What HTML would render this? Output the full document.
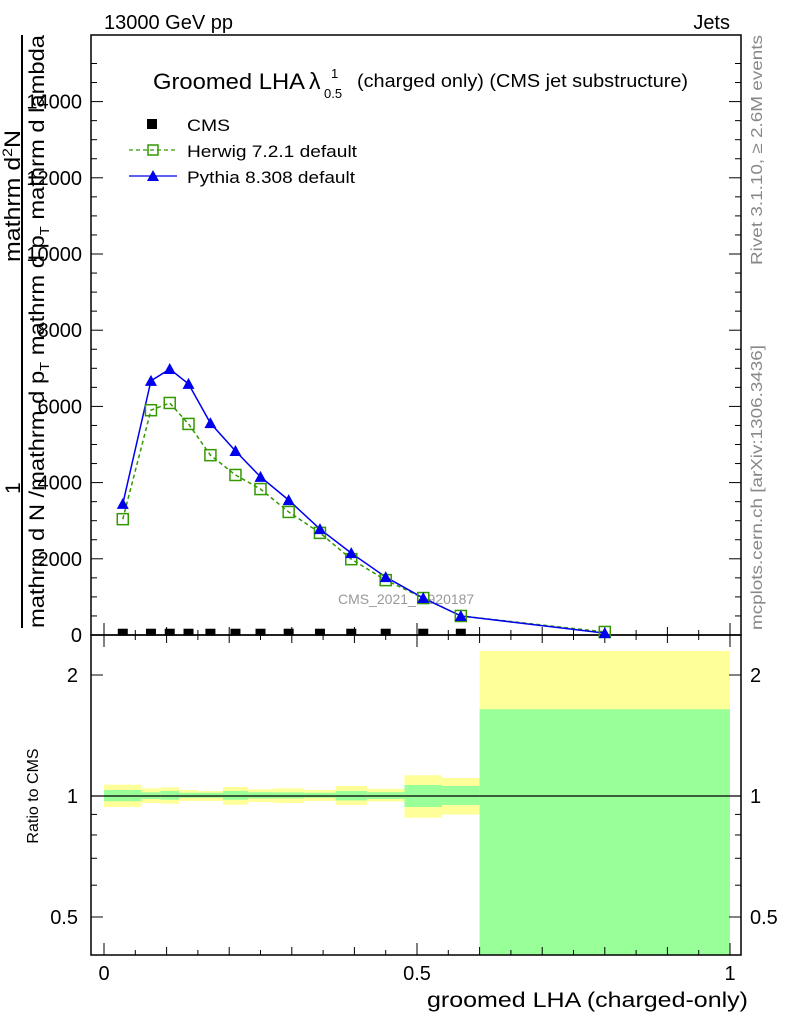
<!DOCTYPE html>
<html><head><meta charset="utf-8"><style>
body{margin:0;background:#fff;}
svg{display:block;font-family:"Liberation Sans",sans-serif;}
</style></head><body>
<svg id="c" width="786" height="1024" viewBox="0 0 786 1024" xmlns="http://www.w3.org/2000/svg">
<text x="104" y="29" font-size="20">13000 GeV pp</text>
<text x="730" y="29" font-size="20" text-anchor="end">Jets</text>
<g>
<text x="153" y="89" font-size="22" textLength="152" lengthAdjust="spacingAndGlyphs">Groomed LHA</text>
<text x="309" y="89" font-size="23">λ</text>
<text x="331" y="78" font-size="13">1</text>
<text x="324" y="98" font-size="13">0.5</text>
</g>
<text x="357" y="87" font-size="18" textLength="331" lengthAdjust="spacingAndGlyphs">(charged only) (CMS jet substructure)</text>
<g>
<rect x="147" y="119" width="10" height="10" fill="#000"/>
<text x="187" y="131" font-size="17" textLength="43" lengthAdjust="spacingAndGlyphs">CMS</text>
<line x1="129" y1="150" x2="177" y2="150" stroke="#339900" stroke-dasharray="4,3" stroke-width="1.3"/>
<rect x="148" y="145" width="10" height="10" fill="none" stroke="#339900" stroke-width="1.5"/>
<text x="187" y="157" font-size="17" textLength="170" lengthAdjust="spacingAndGlyphs">Herwig 7.2.1 default</text>
<line x1="129" y1="176" x2="177" y2="176" stroke="#0000ee" stroke-width="1.3"/>
<polygon points="153,170 159,181 147,181" fill="#0000ee"/>
<text x="187" y="183" font-size="17" textLength="168" lengthAdjust="spacingAndGlyphs">Pythia 8.308 default</text>
</g>
<text x="338" y="604" font-size="14" fill="#999">CMS_2021_I1920187</text>
<text transform="translate(762,265) rotate(-90)" font-size="16" fill="#888" textLength="230" lengthAdjust="spacingAndGlyphs">Rivet 3.1.10, ≥ 2.6M events</text>
<text transform="translate(762,630) rotate(-90)" font-size="16" fill="#888" textLength="285" lengthAdjust="spacingAndGlyphs">mcplots.cern.ch [arXiv:1306.3436]</text>
<g>
<text transform="translate(20,262) rotate(-90)" font-size="22" textLength="132" lengthAdjust="spacingAndGlyphs">mathrm d<tspan font-size="14" dy="-8">2</tspan><tspan dy="8">N</tspan></text>
<line x1="22" y1="35" x2="22" y2="628" stroke="#000" stroke-width="2"/>
<text transform="translate(20,494) rotate(-90)" font-size="21">1</text>
<text transform="translate(44,628) rotate(-90)" font-size="21" textLength="593" lengthAdjust="spacingAndGlyphs">mathrm d N /mathrm d p<tspan font-size="13" dy="5">T</tspan><tspan dy="-5"> mathrm d p</tspan><tspan font-size="13" dy="5">T</tspan><tspan dy="-5"> mathrm d lambda</tspan></text>
</g>
<text transform="translate(38,796) rotate(-90)" font-size="16" text-anchor="middle">Ratio to CMS</text>
<text x="427" y="1007" font-size="21" textLength="321" lengthAdjust="spacingAndGlyphs">groomed LHA (charged-only)</text>
<g id="g"></g>
</svg>
<script>
const binEdges=[0,0.06,0.09,0.12,0.15,0.19,0.23,0.27,0.32,0.37,0.42,0.48,0.54,0.6,1.0];
const cmsValues=[60,60,60,60,60,60,60,60,60,60,60,60,60,20];
const herwigValues=[3040,5900,6090,5540,4720,4200,3830,3230,2680,1990,1440,970,500,80];
const pythiaValues=[3440,6670,6980,6590,5560,4830,4150,3540,2780,2150,1520,970,500,50];
const bandYellowHi=[1.067,1.045,1.051,1.035,1.029,1.053,1.039,1.045,1.035,1.059,1.042,1.126,1.109,2.295];
const bandYellowLo=[0.939,0.961,0.957,0.972,0.972,0.951,0.966,0.961,0.972,0.95,0.969,0.883,0.899,0.3];
const bandGreenHi=[1.035,1.021,1.029,1.019,1.019,1.029,1.022,1.021,1.019,1.029,1.022,1.065,1.059,1.644];
const bandGreenLo=[0.971,0.983,0.979,0.99,0.99,0.979,0.986,0.986,0.99,0.975,0.983,0.939,0.95,0.3];
const yTicks=[0,2000,4000,6000,8000,10000,12000,14000];
const xTickLabels=["0","0.5","1"];
const xTickVals=[0,0.5,1];
const ratioTicks=[0.5,1,2];

const NS="http://www.w3.org/2000/svg";
const g=document.getElementById('g');
const L=91,R=741,T=35,M=635,B=955;
const sx=v=>104+v*626;
const sy=v=>635-v*0.0381;
const ry=v=>{let y=796-402*Math.log10(v);return Math.max(M,Math.min(B,y));};
function mk(t,a,p){const e=document.createElementNS(NS,t);for(const k in a)e.setAttribute(k,a[k]);(p||g).appendChild(e);return e;}

binEdges.slice(0,-1).forEach((e,i)=>{
  const x1=sx(e),x2=sx(binEdges[i+1]);
  const y=mk('rect',{x:x1,y:ry(bandYellowHi[i]),width:x2-x1,height:ry(bandYellowLo[i])-ry(bandYellowHi[i]),fill:'#ffff99'});
  
  
  const gr=mk('rect',{x:x1,y:ry(bandGreenHi[i]),width:x2-x1,height:ry(bandGreenLo[i])-ry(bandGreenHi[i]),fill:'#99ff99'});
  
  
});
mk('line',{x1:L,y1:ry(1),x2:R,y2:ry(1),stroke:'#000','stroke-width':1.2});

mk('rect',{x:L,y:T,width:R-L,height:M-T,fill:'none',stroke:'#000','stroke-width':1.5});
mk('rect',{x:L,y:M,width:R-L,height:B-M,fill:'none',stroke:'#000','stroke-width':1.5});

for(let v=0;v<=15000;v+=500){const y=sy(v);if(y<T)break;const len=v%2000===0?12:6;
  mk('line',{x1:L,y1:y,x2:L+len,y2:y,stroke:'#000'});mk('line',{x1:R,y1:y,x2:R-len,y2:y,stroke:'#000'});}
yTicks.forEach(v=>{const t=mk('text',{x:82,y:sy(v)+7,'font-size':20,'text-anchor':'end'});t.textContent=v;
  
  });

for(let i=0;i<=20;i++){const v=i*0.05,x=sx(v);const len=i%10===0?12:(i%2===0?8:5);
  mk('line',{x1:x,y1:M,x2:x,y2:M-len,stroke:'#000'});
  mk('line',{x1:x,y1:B,x2:x,y2:B-len,stroke:'#000'});
  mk('line',{x1:x,y1:M,x2:x,y2:M+len,stroke:'#000'});}
xTickVals.forEach((v,i)=>{const t=mk('text',{x:sx(v),y:980,'font-size':20,'text-anchor':'middle'});t.textContent=xTickLabels[i];
  
  });

[0.5,0.6,0.7,0.8,0.9,1,2].forEach(v=>{const y=ry(v);const len=ratioTicks.includes(v)?12:6;
  mk('line',{x1:L,y1:y,x2:L+len,y2:y,stroke:'#000'});mk('line',{x1:R,y1:y,x2:R-len,y2:y,stroke:'#000'});});
ratioTicks.forEach(v=>{
  const t=mk('text',{x:78,y:ry(v)+7,'font-size':20,'text-anchor':'end'});t.textContent=v;
  
  
  const t2=mk('text',{x:750,y:ry(v)+7,'font-size':20});t2.textContent=v;
  
  });

const mids=binEdges.slice(0,-1).map((e,i)=>(e+binEdges[i+1])/2);
mk('polyline',{points:mids.map((m,i)=>sx(m)+','+sy(herwigValues[i])).join(' '),fill:'none',stroke:'#339900','stroke-width':1.5,'stroke-dasharray':'4,3'});
mk('polyline',{points:mids.map((m,i)=>sx(m)+','+sy(pythiaValues[i])).join(' '),fill:'none',stroke:'#0000ee','stroke-width':1.5});
mids.forEach((m,i)=>{
  const x=sx(m);
  const h=mk('rect',{x:x-5.5,y:sy(herwigValues[i])-5.5,width:11,height:11,fill:'none',stroke:'#339900','stroke-width':1.5});
  
  
  const py=sy(pythiaValues[i]);
  const p=mk('polygon',{points:`${x},${py-6} ${x+6},${py+5} ${x-6},${py+5}`,fill:'#0000ee'});
  
  
  if(i<13){const c=mk('rect',{x:x-5,y:sy(cmsValues[i])-4,width:10,height:7,fill:'#000'});
  
  }
});
</script>
</body></html>
